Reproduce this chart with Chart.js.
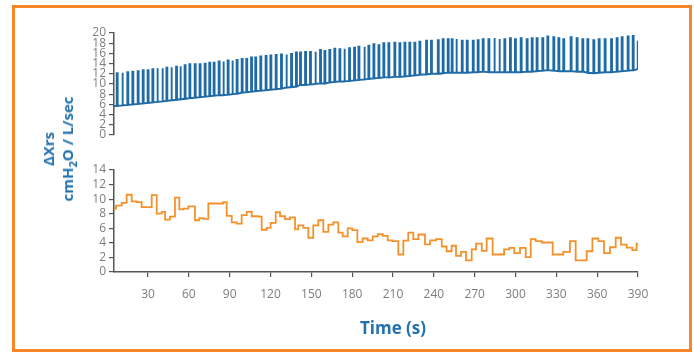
<!DOCTYPE html>
<html>
<head>
<meta charset="utf-8">
<script src="https://cdn.jsdelivr.net/npm/chart.js@4.4.1/dist/chart.umd.min.js"></script>
<style>
  body { margin: 0; background: #fff; }
  #wrap { position: relative; width: 694px; height: 353px; overflow: hidden; }
  #frame { position: absolute; left: 12px; top: 5px; width: 674px; height: 341px; border: 3px solid #f5872a; }
  canvas { position: absolute; left: 0; }
  .ttl { position: absolute; color: #2371ad; font-family: "Open Sans", sans-serif; font-weight: 700; font-size: 17px; white-space: nowrap; }
  .ttl sub { font-size: 0.75em; line-height: 0; }
  #ytitle { left: 58px; top: 149px; transform: translate(-50%, -50%) rotate(-90deg); text-align: center; line-height: 19px; font-size: 15px; }
  #xtitle { left: 393px; top: 327px; transform: translate(-50%, -50%); }
</style>
</head>
<body>
<div id="wrap">
  <div id="frame"></div>
  <canvas id="chartTop" width="694" height="150" style="top:0"></canvas>
  <canvas id="chartBottom" width="694" height="203" style="top:150px"></canvas>
  <div class="ttl" id="ytitle">&Delta;Xrs<br>cmH<sub>2</sub>O / L/sec</div>
  <div class="ttl" id="xtitle">Time (s)</div>
</div>
<script>
// top panel: Xrs over each breath, one spike per breath (time in s)
var breathTimes = [7.0, 10.9, 14.8, 18.5, 22.4, 26.1, 29.7, 33.2, 36.6, 40.3, 43.5, 46.9, 50.6, 53.5, 56.9, 60.4, 64.3, 67.9, 71.6, 75.0,
  78.2, 81.9, 85.1, 88.5, 91.7, 95.1, 98.8, 102.2, 105.7, 108.8, 112.5, 116.4, 119.9, 123.8, 127.7, 131.4, 135.1, 138.7,
  141.7, 145.4, 149.0, 152.7, 156.4, 159.6, 163.2, 166.9, 170.6, 174.0, 177.7, 181.4, 184.6, 188.7, 191.9, 195.6, 199.3, 202.9,
  206.6, 211.0, 214.7, 218.4, 222.0, 225.7, 229.4, 234.3, 237.9, 242.9, 246.5, 250.2, 253.1, 256.3, 260.5, 264.2, 268.6, 272.2,
  275.9, 280.1, 284.2, 287.9, 291.8, 295.9, 299.6, 303.8, 308.2, 311.9, 315.5, 319.7, 323.4, 327.8, 331.5, 335.1, 340.5, 344.9,
  349.1, 352.8, 357.2, 361.1, 365.5, 370.2, 374.3, 378.0, 382.4, 386.1, 389.8];
var peakXrs = [12.1, 12.2, 12.3, 12.4, 12.5, 12.7, 12.7, 12.9, 13.1, 13.1, 13.2, 13.3, 13.4, 13.5, 13.7, 13.9, 13.9, 13.9, 14.0, 14.2,
  14.2, 14.4, 14.4, 14.6, 14.6, 14.7, 14.9, 14.9, 15.2, 15.2, 15.4, 15.5, 15.6, 15.7, 15.8, 15.8, 15.9, 16.2,
  16.2, 16.3, 16.3, 16.3, 16.7, 16.5, 16.7, 16.9, 16.8, 16.9, 17.0, 17.1, 17.3, 17.3, 17.5, 17.8, 17.6, 18.0,
  18.0, 18.1, 18.0, 18.1, 18.1, 18.1, 18.3, 18.5, 18.5, 18.6, 18.8, 18.8, 18.8, 18.8, 18.5, 18.5, 18.5, 18.6,
  18.8, 18.8, 19.0, 18.8, 18.8, 19.0, 18.8, 19.0, 18.8, 19.0, 19.0, 19.0, 19.3, 19.2, 19.0, 18.8, 19.2, 19.0,
  18.8, 18.8, 18.6, 18.8, 18.8, 18.8, 19.0, 19.2, 19.3, 19.4, 18.3];
var troughXrs = [5.7, 5.8, 5.9, 6.0, 6.1, 6.2, 6.3, 6.4, 6.5, 6.6, 6.7, 6.8, 6.9, 7.0, 7.1, 7.2, 7.3, 7.4, 7.5, 7.6,
  7.7, 7.8, 7.8, 7.9, 8.0, 8.1, 8.3, 8.4, 8.5, 8.6, 8.7, 8.8, 8.9, 9.0, 9.1, 9.3, 9.4, 9.5,
  9.8, 9.8, 9.9, 10.0, 10.1, 10.1, 10.3, 10.4, 10.5, 10.5, 10.6, 10.7, 10.8, 10.9, 11.0, 11.1, 11.2, 11.3,
  11.3, 11.4, 11.4, 11.5, 11.6, 11.7, 11.8, 11.9, 12.0, 12.0, 12.1, 12.2, 12.2, 12.2, 12.2, 12.2, 12.3, 12.3,
  12.4, 12.3, 12.3, 12.3, 12.3, 12.3, 12.3, 12.3, 12.4, 12.4, 12.5, 12.6, 12.7, 12.6, 12.5, 12.5, 12.5, 12.4,
  12.4, 12.2, 12.1, 12.2, 12.3, 12.3, 12.4, 12.5, 12.6, 12.7, 12.9];

// bottom panel: delta Xrs, each value holds from its start time to the next one
var stepTimes = [5, 6.5, 10.6, 14.3, 18.0, 21.7, 25.3, 32.7, 36.4, 40.0, 42.5, 46.1, 49.8, 53.0, 55.9, 59.6, 64.5, 67.7, 70.6, 74.3,
  85.3, 87.8, 91.5, 95.1, 98.8, 102.5, 106.2, 111.0, 113.5, 117.2, 120.1, 123.8, 127.0, 130.6, 134.3, 138.0, 140.4,
  144.1, 147.8, 151.4, 155.1, 158.8, 162.5, 166.1, 169.8, 173.0, 176.7, 180.1, 183.8, 187.7, 191.4, 195.1, 198.8, 202.4,
  206.1, 209.8, 213.9, 217.6, 221.2, 224.9, 228.6, 233.5, 237.2, 241.6, 245.8, 249.4, 253.1, 256.3, 260.0, 263.6, 267.8,
  271.0, 275.2, 278.8, 283.2, 291.6, 295.5, 299.1, 303.3, 307.5, 311.2, 314.8, 319.3, 327.3, 335.1, 340.0, 344.2, 352.3,
  356.5, 360.9, 365.0, 369.4, 373.6, 377.5, 381.7, 385.8, 389.0, 390];
var stepXrs = [8.7, 9.1, 9.5, 10.6, 9.7, 9.6, 8.9, 10.55, 8.0, 8.25, 7.2, 7.6, 10.2, 8.6, 8.7, 9.0, 7.1, 7.4, 7.3, 9.4,
  9.6, 7.7, 6.8, 6.65, 7.8, 8.25, 7.65, 7.6, 5.8, 6.05, 6.75, 8.2, 7.65, 7.25, 7.5, 5.85, 6.4,
  6.05, 4.7, 6.4, 7.1, 5.5, 6.5, 6.8, 5.4, 4.9, 6.0, 5.75, 4.1, 4.6, 4.35, 4.9, 5.2, 4.95,
  4.35, 4.25, 2.4, 4.3, 5.4, 4.5, 5.15, 3.8, 4.35, 4.5, 3.5, 2.85, 3.6, 2.2, 2.75, 1.6, 3.1,
  3.9, 2.9, 4.6, 2.4, 3.1, 3.3, 2.6, 3.3, 2.05, 4.5, 4.25, 4.05, 2.4, 2.75, 4.25, 1.6, 2.85,
  4.6, 4.25, 2.6, 3.4, 4.7, 3.75, 3.35, 3.0, 3.9, 3.9];

var timeTicks = [30, 60, 90, 120, 150, 180, 210, 240, 270, 300, 330, 360, 390];
var topTicks = [0, 2, 4, 6, 8, 10, 12, 14, 16, 18, 20];
var bottomTicks = [0, 2, 4, 6, 8, 10, 12, 14];

var axisColor = '#555';
var tickFont = { family: 'Open Sans', size: 12 };

var topPoints = [{ x: 5, y: troughXrs[0] }];
breathTimes.forEach(function(t, i) {
  topPoints.push({ x: t, y: troughXrs[i] });
  topPoints.push({ x: t, y: peakXrs[i] });
  topPoints.push({ x: t + 0.7, y: peakXrs[i] });
  topPoints.push({ x: t + 0.7, y: troughXrs[i] });
});

var bottomPoints = stepTimes.map(function(t, i) {
  return { x: t, y: stepXrs[i] };
});

function yAxis(ticks) {
  return {
    min: ticks[0],
    max: ticks[ticks.length - 1],
    afterBuildTicks: function(a) { a.ticks = ticks.map(function(v) { return { value: v }; }); },
    afterFit: function(a) { a.width = 114; },
    border: { color: axisColor, width: 1.5 },
    grid: { drawOnChartArea: false, color: axisColor, tickLength: 5, lineWidth: 1.2 },
    ticks: { color: '#7d7d7d', font: tickFont, padding: 3, autoSkip: false }
  };
}

var common = {
  responsive: false,
  animation: false,
  plugins: { legend: { display: false }, tooltip: { enabled: false } },
  elements: { point: { radius: 0 } }
};

new Chart(document.getElementById('chartTop').getContext('2d'), {
  type: 'line',
  data: {
    datasets: [{
      data: topPoints,
      borderColor: '#1f6ba6',
      borderWidth: 1.9,
      fill: false,
      tension: 0
    }]
  },
  options: Object.assign({}, common, {
    layout: { padding: { left: 0, right: 56, top: 33, bottom: 15 } },
    scales: {
      x: { type: 'linear', min: 5, max: 390, display: false },
      y: yAxis(topTicks)
    }
  })
});

new Chart(document.getElementById('chartBottom').getContext('2d'), {
  type: 'line',
  data: {
    datasets: [{
      data: bottomPoints,
      borderColor: '#f5912a',
      borderWidth: 1.8,
      stepped: 'before',
      fill: false
    }]
  },
  options: Object.assign({}, common, {
    layout: { padding: { left: 0, right: 56, top: 20, bottom: 0 } },
    scales: {
      x: {
        type: 'linear',
        min: 5,
        max: 390,
        afterBuildTicks: function(a) { a.ticks = timeTicks.map(function(v) { return { value: v }; }); },
        afterFit: function(a) { a.height = 81; },
        border: { color: axisColor, width: 1.5 },
        grid: { drawOnChartArea: false, color: axisColor, tickLength: 5, lineWidth: 1.2 },
        ticks: { color: '#7d7d7d', font: tickFont, padding: 10, autoSkip: false, maxRotation: 0 }
      },
      y: yAxis(bottomTicks)
    }
  })
});
</script>
</body>
</html>
